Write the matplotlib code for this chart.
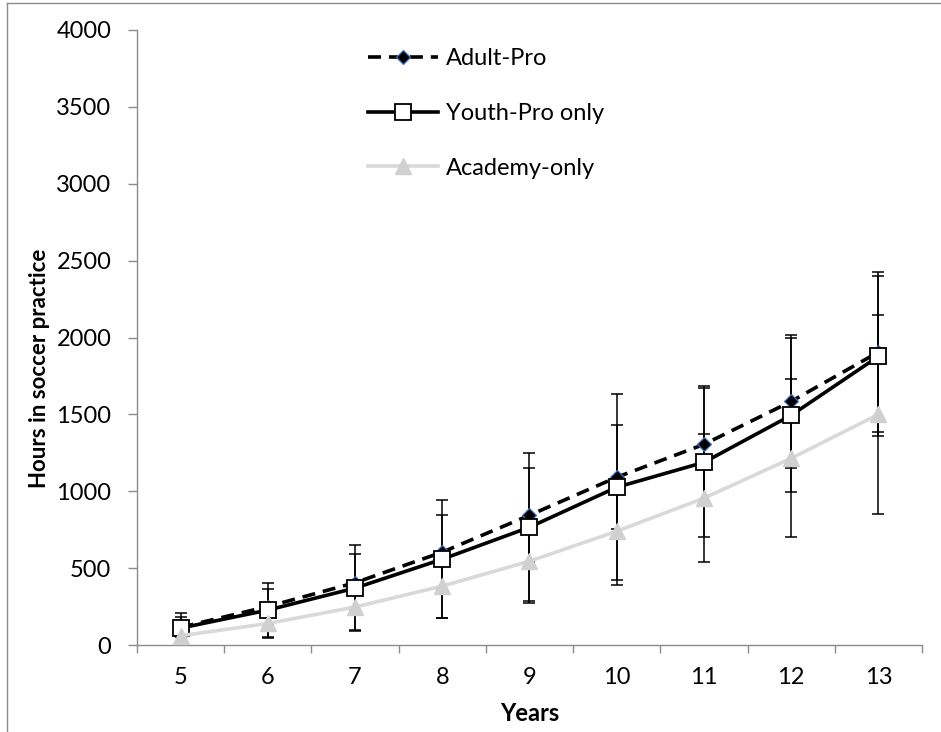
import matplotlib
matplotlib.use("Agg")
import matplotlib.pyplot as plt
from matplotlib.lines import Line2D

# values
years = [5, 6, 7, 8, 9, 10, 11, 12, 13]
year_labels = [str(y) for y in years]

adult_pro = [115, 250, 405, 604, 844, 1091, 1305, 1584, 1905]
adult_pro_err = [65, 115, 186, 240, 305, 338, 377, 435, 518]

youth_pro = [110, 227, 370, 558, 766, 1026, 1188, 1494, 1877]
youth_pro_err = [98, 176, 279, 383, 481, 604, 483, 500, 520]

academy = [60, 140, 247, 383, 545, 740, 955, 1214, 1500]
academy_err = [55, 95, 150, 205, 275, 350, 416, 513, 645]

y_ticks = [0, 500, 1000, 1500, 2000, 2500, 3000, 3500, 4000]

plt.rcParams["font.family"] = ["Lato", "DejaVu Sans"]

AXIS_GREY = "#8b8b8b"
LIGHT_GREY = "#d9d9d9"

fig = plt.figure(figsize=(9.41, 7.32), dpi=100)
ax = fig.add_axes([137 / 941, 87 / 732, 785 / 941, 615 / 732])

# error bars sit underneath the lines and markers
for vals, errs in [(adult_pro, adult_pro_err), (youth_pro, youth_pro_err), (academy, academy_err)]:
    ax.errorbar(years, vals, yerr=errs, fmt="none", ecolor="black",
                elinewidth=1.1, capsize=4, capthick=1.1, zorder=2)

ax.plot(years, adult_pro, color="black", lw=2.6, dashes=(3.6, 2.2),
        marker="D", ms=7, mfc="black", mec="#4472c4", mew=0.9,
        label="Adult-Pro", zorder=3)
ax.plot(years, youth_pro, color="black", lw=2.6,
        marker="s", ms=12, mfc="white", mec="black", mew=1.3,
        label="Youth-Pro only", zorder=4)
ax.plot(years, academy, color=LIGHT_GREY, lw=2.6,
        marker="^", ms=12, mfc="#d0d0d0", mec="#d0d0d0",
        label="Academy-only", zorder=5)

# category style x axis: ticks between the years, labels at the centres
ax.set_xlim(years[0] - 0.5, years[-1] + 0.5)
ax.set_xticks([y - 0.5 for y in years] + [years[-1] + 0.5])
ax.set_xticklabels([])
ax.set_xticks(years, minor=True)
ax.set_xticklabels(year_labels, minor=True)
ax.tick_params(axis="x", which="major", direction="out", length=6,
               width=1, color=AXIS_GREY)
ax.tick_params(axis="x", which="minor", length=0, pad=16, labelsize=17)

ax.set_ylim(0, 4000)
ax.set_yticks(y_ticks)
ax.tick_params(axis="y", direction="out", length=6.5, width=1,
               color=AXIS_GREY, pad=12, labelsize=17)

for side in ["top", "right"]:
    ax.spines[side].set_visible(False)
for side in ["left", "bottom"]:
    ax.spines[side].set_color(AXIS_GREY)
    ax.spines[side].set_linewidth(1)

ax.set_xlabel("Years", fontsize=17, fontweight="bold", labelpad=10)
ax.set_ylabel("Hours in soccer practice", fontsize=16, fontweight="bold")
ax.yaxis.set_label_coords(50 / 941, 1 - 368 / 732, transform=fig.transFigure)

ax.legend(loc="upper left", bbox_to_anchor=(368 / 941, 1 - 48 / 732),
          bbox_transform=fig.transFigure, frameon=False, fontsize=17,
          handlelength=2.97, handletextpad=0.34, labelspacing=1.43,
          borderpad=0, borderaxespad=0, numpoints=1)

# thin outer chart frame (left and top edge visible in the picture)
fig.add_artist(Line2D([7 / 941, 7 / 941], [0, 1 - 3 / 732],
                      transform=fig.transFigure, color=AXIS_GREY, lw=1))
fig.add_artist(Line2D([7 / 941, 1], [1 - 3 / 732, 1 - 3 / 732],
                      transform=fig.transFigure, color=AXIS_GREY, lw=1))

fig.savefig("out.png", dpi=100)
